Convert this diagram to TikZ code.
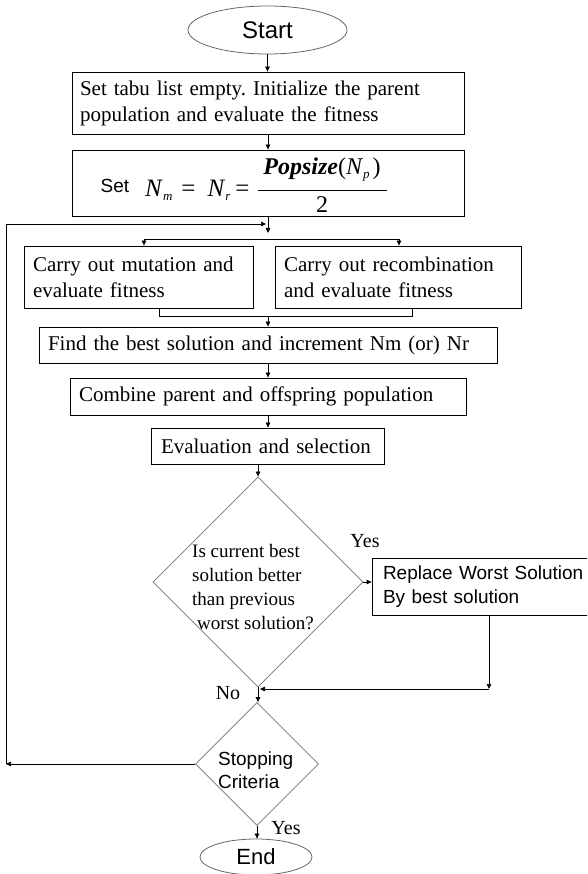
\documentclass[tikz,border=0pt]{standalone}
\usepackage{fontspec}
\setmainfont{Liberation Serif}
\setsansfont{Liberation Sans}
\usetikzlibrary{shapes.geometric,arrows.meta,calc}
\frenchspacing
\begin{document}
\begin{tikzpicture}[x=1pt,y=-1pt,
  box/.style={draw=black,line width=0.8pt,rectangle,inner ysep=0pt,align=left,font=\fontsize{21}{26}\selectfont},
  dia/.style={draw=black!55,line width=0.8pt,diamond,inner sep=0pt,shape aspect=1},
  oval/.style={draw=black!60,line width=0.8pt,ellipse,inner sep=0pt,font=\sffamily\fontsize{24}{24}\selectfont},
  con/.style={draw=black,line width=0.7pt},
  arr/.style={con,-{Triangle[length=5pt,width=4.5pt]}},
  lbl/.style={inner sep=0pt,font=\fontsize{20}{20}\selectfont},
  txt/.style={inner sep=0pt}]
\clip (0,0) rectangle (587,874);
\fill[white] (0,0) rectangle (587,874);

% nodes
\node[oval,minimum width=159pt,minimum height=48pt] (start) at (267.5,30) {Start};
\node[box,inner xsep=8pt,text width=376pt,minimum height=62pt] (init) at (268,103)
  {Set tabu list empty. Initialize the parent\\population and evaluate the fitness};
\node[box,minimum width=392pt,minimum height=66pt] (setn) at (268,183) {};
\node[txt,anchor=base,font=\sffamily\fontsize{19}{19}\selectfont] (setlbl) at (115,193) {Set};
\node[txt,anchor=base west,font=\fontsize{25}{25}\selectfont] (nmnr) at (145,197)
  {\textit{N}\raisebox{-4pt}{\fontsize{13}{13}\selectfont\textit{m}}\hspace{9pt}=\hspace{12pt}\textit{N}\raisebox{-4pt}{\fontsize{13}{13}\selectfont\textit{r}}\hspace{5pt}=};
\node[txt,anchor=base,font=\fontsize{24}{24}\selectfont] (num) at (322,175)
  {\textbf{\textit{Popsize}}(\textit{N}\raisebox{-4pt}{\fontsize{13}{13}\selectfont\textit{p}}\hspace{3pt})};
\draw[line width=0.8pt] (258,190) -- (387,190);
\node[txt,anchor=base,font=\fontsize{24}{24}\selectfont] (den) at (322,213) {2};

\node[box,inner xsep=9pt,text width=211pt,minimum height=62pt] (mut) at (138.5,277)
  {Carry out mutation and\\evaluate fitness};
\node[box,inner xsep=9pt,text width=228pt,minimum height=62pt] (rec) at (398,277)
  {Carry out recombination\\and evaluate fitness};
\node[box,inner xsep=9pt,text width=440pt,minimum height=36pt] (find) at (268,345)
  {\mbox{Find the best solution and increment Nm (or) Nr}};
\node[box,inner xsep=9pt,text width=378pt,minimum height=37pt] (comb) at (268,396.5)
  {\mbox{Combine parent and offspring population}};
\node[box,inner xsep=10pt,text width=213pt,minimum height=36pt] (evaln) at (267.5,446)
  {\mbox{Evaluation and selection}};

\node[dia,minimum width=210pt,minimum height=210pt] (q1) at (258,582) {};
\node[txt,anchor=west,align=left,font=\fontsize{19}{24}\selectfont] (q1text) at (192,587)
  {Is current best\\solution better\\than previous\\\hspace{5pt}worst solution?};
\node[box,font=\sffamily\fontsize{19}{24}\selectfont,inner xsep=11pt,text width=206pt,minimum height=57pt] (repl) at (486,586.5)
  {Replace Worst Solution\\By best solution};

\node[dia,minimum width=123pt,minimum height=123pt] (stop) at (257,764) {};
\node[txt,anchor=west,align=left,font=\sffamily\fontsize{19}{23}\selectfont] (stoptext) at (218,770.5)
  {Stopping\\Criteria};
\node[oval,font=\sffamily\fontsize{22}{22}\selectfont,minimum width=112pt,minimum height=36pt] (endn) at (256,857) {End};

\node[lbl] (yes1) at (365,541) {Yes};
\node[lbl] (no1) at (228,693) {No};
\node[lbl] (yes2) at (286,828) {Yes};

% coordinates
\coordinate (split) at (268,233);
\coordinate (fbTop) at (266,224);
\coordinate (fbBot) at (6,764);
\coordinate (sL) at (144,239);
\coordinate (sR) at (399,239);
\coordinate (bL) at (159,316);
\coordinate (bR) at (412,316);
\coordinate (bM) at (268,316);
\coordinate (rc) at (489,689);
\coordinate (nj) at (260,689);

% connectors
\draw[arr] (start.south) -- (start.south |- init.north);
\draw[arr] (init.south) -- (setn.north);
\draw[arr] (setn.south) -- (split);
\draw[arr] (stop.west) -- (fbBot);
\draw[arr] (fbBot) |- (fbTop);
\draw[con] (sL) -- (sR);
\draw[arr] (sL) -- (sL |- mut.north);
\draw[arr] (sR) -- (sR |- rec.north);
\draw[con] (mut.south -| bL) -- (bL) -- (bR) -- (rec.south -| bR);
\draw[arr] (bM) -- (bM |- find.north);
\draw[arr] (find.south) -- (comb.north);
\draw[arr] (comb.south) -- (comb.south |- evaln.north);
\draw[arr] (evaln.south -| q1.north) -- (q1.north);
\draw[arr] (q1.east) -- (q1.east -| repl.west);
\draw[arr] (repl.south -| rc) -- (rc);
\draw[arr] (rc) -- (nj);
\draw[arr] (q1.south) -- (q1.south |- stop.north);
\draw[arr] (stop.south) -- (stop.south |- endn.north);
\end{tikzpicture}
\end{document}
